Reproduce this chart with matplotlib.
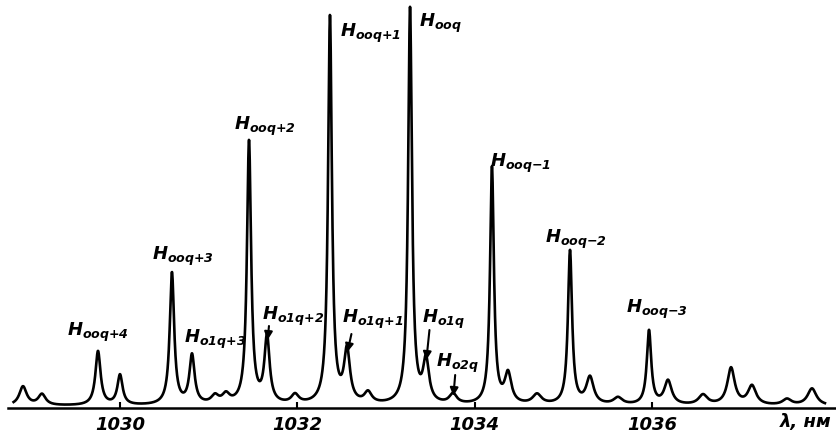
import numpy as np
import matplotlib.pyplot as plt

plt.rcParams['mathtext.fontset'] = 'custom'
plt.rcParams['mathtext.it'] = 'DejaVu Sans:italic:bold'
plt.rcParams['mathtext.rm'] = 'DejaVu Sans:italic:bold'

# peak positions (nm), heights (arb. units) and half widths (nm)
centers = [1028.906, 1029.120, 1029.752, 1030.000, 1030.586, 1030.812, 1031.071,
           1031.195, 1031.455, 1031.658, 1031.974, 1032.368, 1032.560, 1032.797,
           1033.271, 1033.451, 1033.756, 1034.195, 1034.376, 1034.703, 1035.075,
           1035.300, 1035.616, 1035.966, 1036.180, 1036.575, 1036.891, 1037.127,
           1037.522, 1037.804]
heights = [19, 11, 54, 30, 132, 49, 8, 9, 263, 66, 9, 388, 52, 11, 396, 42, 10,
           237, 30, 10, 154, 27, 7, 74, 24, 10, 37, 19, 6, 17]
widths = [0.05, 0.05, 0.035, 0.035, 0.03, 0.035, 0.05, 0.05, 0.028, 0.035, 0.05,
          0.026, 0.04, 0.05, 0.026, 0.04, 0.05, 0.026, 0.045, 0.06, 0.028, 0.05,
          0.06, 0.03, 0.05, 0.06, 0.05, 0.055, 0.06, 0.06]

ticks = [1030, 1032, 1034, 1036]

# band labels: subscript, left x (nm), top y
label_sub = ['ooq+4', 'ooq+3', 'o1q+3', 'ooq+2', 'o1q+2', 'ooq+1', 'ooq',
             'o1q+1', 'o1q', 'o2q', 'ooq-1', 'ooq-2', 'ooq-3']
label_x = [1029.40, 1030.36, 1030.72, 1031.29, 1031.60, 1032.48, 1033.37,
           1032.50, 1033.41, 1033.56, 1034.17, 1034.79, 1035.71]
label_y = [87, 163, 80, 293, 103, 386, 396, 100, 100, 56, 256, 180, 110]

# arrows: (start x, start y) -> (end x, end y)
arrow_from = [(1031.68, 82), (1032.61, 74), (1033.49, 78), (1033.78, 33)]
arrow_to = [(1031.665, 68), (1032.565, 56), (1033.455, 48), (1033.76, 12)]

x = np.linspace(1028.80, 1037.95, 4000)
y = np.full_like(x, 2.0)
for c, h, w in zip(centers, heights, widths):
    y += h * w**2 / ((x - c)**2 + w**2)

fig = plt.figure(figsize=(8.37, 4.41), dpi=100)
ax = fig.add_axes([8 / 837, 33 / 441, 829 / 837, 408 / 441])
ax.plot(x, y, color='black', lw=1.9)
ax.set_xlim(1028.737, 1038.086)
ax.set_ylim(0, 408)

for s in ['top', 'right', 'left']:
    ax.spines[s].set_visible(False)
ax.spines['bottom'].set_linewidth(1.8)
ax.set_yticks([])
ax.set_xticks(ticks)
ax.set_xticklabels([str(t) for t in ticks], fontsize=13, fontweight='bold',
                   fontstyle='italic')
ax.tick_params(axis='x', direction='in', length=4, width=1.5, pad=6)

for sub, lx, ly in zip(label_sub, label_x, label_y):
    s = sub.replace('+', '{+}').replace('-', '{-}')
    ax.text(lx, ly, '$H_{' + s + '}$', fontsize=13, ha='left', va='top')

for (x0, y0), (x1, y1) in zip(arrow_from, arrow_to):
    ax.annotate('', xy=(x1, y1), xytext=(x0, y0),
                arrowprops=dict(arrowstyle='-|>', color='black', lw=1.5,
                                mutation_scale=12, shrinkA=0, shrinkB=0))

fig.text(0.932, 0.022, 'λ, нм', fontsize=13, fontweight='bold', fontstyle='italic',
         ha='left', va='bottom')

fig.savefig('out.png', dpi=100)
